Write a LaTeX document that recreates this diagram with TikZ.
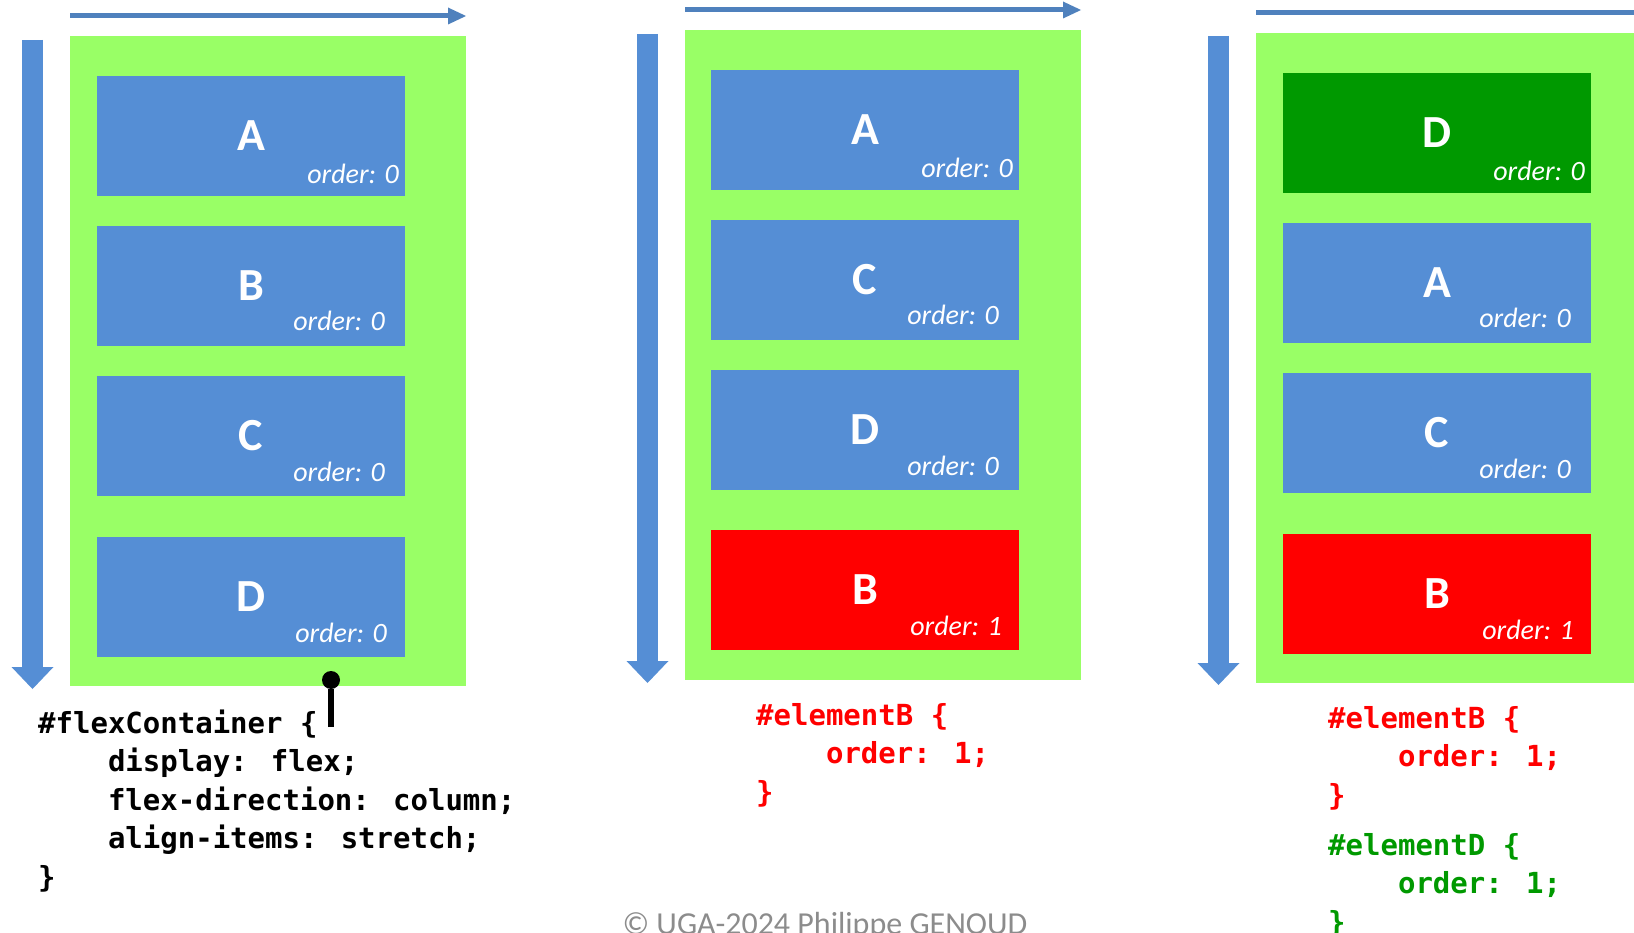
\documentclass[tikz,border=0pt]{standalone}
\usepackage{fontspec}
\setmainfont{Carlito}
\newfontfamily\codefont{DejaVu Sans Mono}
\usepackage{tikz}
\usetikzlibrary{
    positioning,      % 相对定位
    arrows.meta       % 箭头样式
}
\definecolor{boxblue}{HTML}{558ED5}
\definecolor{arrowblue}{HTML}{4F81BD}
\definecolor{flexgreen}{HTML}{99FF66}
\definecolor{darkgreen}{HTML}{009900}
\definecolor{copygray}{HTML}{8C8C8C}
\newcommand{\ind}{\phantom{0000}}

\begin{document}
\begin{tikzpicture}[
        x=1pt, y=-1pt,
        container/.style={
            rectangle,
            fill=flexgreen,
            minimum width=396pt,
            minimum height=650pt,
            inner sep=0pt,
            outer sep=0pt,
            anchor=north west
        },
        box/.style={
            rectangle,
            fill=#1,
            minimum width=308pt,
            minimum height=120pt,
            inner sep=0pt,
            outer sep=0pt,
            text=white,
            font=\fontsize{46}{50}\selectfont\bfseries
        },
        box/.default=boxblue,
        ordertxt/.style={
            text=white,
            inner sep=0pt,
            anchor=base east,
            font=\fontsize{28}{30}\selectfont\itshape
        },
        code/.style={
            inner sep=0pt,
            anchor=base west,
            align=left,
            text=#1,
            font=\codefont\fontsize{29}{38.5}\selectfont\bfseries
        },
        code/.default=black,
        hdir/.style={
            draw=arrowblue,
            line width=5pt,
            -{Triangle[width=17pt,length=18pt,line width=0pt]}
        },
        vdir/.style={
            draw=boxblue,
            line width=21pt,
            -{Triangle[width=42pt,length=22pt,line width=0pt]}
        }
    ]
    \useasboundingbox (0,0) rectangle (1634,933);
    \clip (0,0) rectangle (1634,933);

    % 第一列：初始顺序
    \node[container] (cont1) at (70,36) {};
    \node[box, anchor=north west] (a1) at ([xshift=27pt,yshift=-40pt]cont1.north west) {A};
    \node[box, below=30pt of a1] (b1) {B};
    \node[box, below=30pt of b1] (c1) {C};
    \node[box, below=41pt of c1] (d1) {D};
    \node[ordertxt] (oa1) at ([xshift=-6pt,yshift=12pt]a1.south east) {order: 0};
    \node[ordertxt] (ob1) at ([xshift=-20pt,yshift=15pt]b1.south east) {order: 0};
    \node[ordertxt] (oc1) at ([xshift=-20pt,yshift=15pt]c1.south east) {order: 0};
    \node[ordertxt] (od1) at ([xshift=-18pt,yshift=15pt]d1.south east) {order: 0};
    \draw[hdir] ([yshift=20pt]cont1.north west) -- ([yshift=20pt]cont1.north east);
    \draw[vdir] ([xshift=-37.5pt,yshift=-4pt]cont1.north west) -- ([xshift=-37.5pt,yshift=-3pt]cont1.south west);

    % 第二列：B 排到最后
    \node[container] (cont2) at (685,30) {};
    \node[box, anchor=north west] (a2) at ([xshift=26pt,yshift=-40pt]cont2.north west) {A};
    \node[box, below=30pt of a2] (c2) {C};
    \node[box, below=30pt of c2] (d2) {D};
    \node[box=red, below=40pt of d2] (b2) {B};
    \node[ordertxt] (oa2) at ([xshift=-6pt,yshift=12pt]a2.south east) {order: 0};
    \node[ordertxt] (oc2) at ([xshift=-20pt,yshift=15pt]c2.south east) {order: 0};
    \node[ordertxt] (od2) at ([xshift=-20pt,yshift=15pt]d2.south east) {order: 0};
    \node[ordertxt] (ob2) at ([xshift=-17pt,yshift=15pt]b2.south east) {order: 1};
    \draw[hdir] ([yshift=20pt]cont2.north west) -- ([yshift=20pt]cont2.north east);
    \draw[vdir] ([xshift=-37.5pt,yshift=-4pt]cont2.north west) -- ([xshift=-37.5pt,yshift=-3pt]cont2.south west);

    % 第三列：D 排到最前
    \node[container] (cont3) at (1256,33) {};
    \node[box=darkgreen, anchor=north west] (d3) at ([xshift=27pt,yshift=-40pt]cont3.north west) {D};
    \node[box, below=30pt of d3] (a3) {A};
    \node[box, below=30pt of a3] (c3) {C};
    \node[box=red, below=41pt of c3] (b3) {B};
    \node[ordertxt] (od3) at ([xshift=-6pt,yshift=12pt]d3.south east) {order: 0};
    \node[ordertxt] (oa3) at ([xshift=-20pt,yshift=15pt]a3.south east) {order: 0};
    \node[ordertxt] (oc3) at ([xshift=-20pt,yshift=15pt]c3.south east) {order: 0};
    \node[ordertxt] (ob3) at ([xshift=-17pt,yshift=15pt]b3.south east) {order: 1};
    \coordinate (hend3) at ([xshift=30pt,yshift=20pt]cont3.north east);
    \draw[hdir] ([yshift=20pt]cont3.north west) -- (hend3);
    \draw[vdir] ([xshift=-37.5pt,yshift=-3pt]cont3.north west) -- ([xshift=-37.5pt,yshift=-2pt]cont3.south west);

    % CSS 代码（base 锚点在最后一行）
    \node[code] (css1) at (38,887) {\#flexContainer \{\\
        \ind display: flex;\\
        \ind flex-direction: column;\\
        \ind align-items: stretch;\\
        \}};
    \coordinate (pinfoot) at (331,727);
    \draw[line width=5.5pt, -{Circle[length=18pt,line width=0pt]}] (pinfoot) -- ([yshift=15pt]cont1.south -| pinfoot);

    \node[code=red] (css2) at (756,802) {\#elementB \{\\
        \ind order: 1;\\
        \}};
    \node[code=red] (css3b) at (1328,805) {\#elementB \{\\
        \ind order: 1;\\
        \}};
    \node[code=darkgreen] (css3d) at (1328,932) {\#elementD \{\\
        \ind order: 1;\\
        \}};

    % 版权
    \node[anchor=base, inner sep=0pt, text=copygray, font=\fontsize{32}{34}\selectfont] (copy) at (825,934) {© UGA-2024 Philippe GENOUD};
\end{tikzpicture}
\end{document}
